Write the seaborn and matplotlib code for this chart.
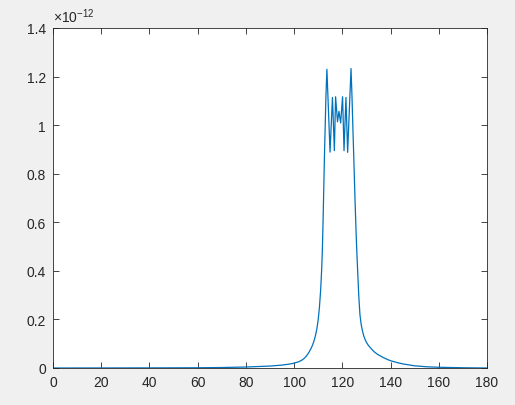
import numpy as np
import pandas as pd
import matplotlib
matplotlib.use("Agg")
import matplotlib.pyplot as plt
from matplotlib.ticker import FuncFormatter
import seaborn as sns

# values, y in units of 1e-12
x_vals = [0, 20, 40, 60, 70, 80, 90, 95, 98, 100, 102, 103, 104, 105, 106, 107, 107.5, 108,
          108.5, 109, 109.5, 110, 110.5, 111, 111.4, 111.7, 112, 112.3, 112.6, 112.9, 113.2,
          113.6, 114.9, 115.9, 116.7, 117.2, 118.0, 118.6, 119.3, 120.1, 120.7, 121.5, 122.2,
          123.6, 124.0, 124.4, 124.8, 125.3, 125.7, 126.0, 126.4, 126.8, 127.3, 127.8, 128.3,
          128.8, 129.4, 130.1, 130.8, 131.5, 132.2, 133.3, 134.5, 135.7, 137, 138.5, 140, 142.5,
          145, 150, 155, 160, 170, 180]
y_vals = [0, 0.0002, 0.0005, 0.001, 0.002, 0.004, 0.008, 0.012, 0.016, 0.02, 0.026, 0.031,
          0.038, 0.048, 0.062, 0.08, 0.091, 0.104, 0.12, 0.14, 0.165, 0.2, 0.25, 0.32, 0.4,
          0.48, 0.6, 0.74, 0.88, 1.0, 1.12, 1.23, 0.889, 1.114, 0.895, 1.117, 1.014, 1.057,
          1.009, 1.117, 0.895, 1.114, 0.888, 1.233, 1.12, 0.98, 0.85, 0.68, 0.56, 0.48, 0.39,
          0.3, 0.22, 0.18, 0.155, 0.135, 0.118, 0.104, 0.093, 0.085, 0.077, 0.066, 0.057, 0.05,
          0.043, 0.036, 0.03, 0.023, 0.017, 0.009, 0.005, 0.003, 0.001, 0]
scale = 1e-12

x_ticks = [0, 20, 40, 60, 80, 100, 120, 140, 160, 180]
y_ticks = [0, 0.2, 0.4, 0.6, 0.8, 1.0, 1.2, 1.4]

df = pd.DataFrame({"x": x_vals, "y": np.array(y_vals) * scale})

sns.set_style("ticks")
plt.rcParams['font.family'] = ['Liberation Sans', 'DejaVu Sans']
plt.rcParams['mathtext.fontset'] = 'custom'
plt.rcParams['mathtext.rm'] = 'Liberation Sans'

fig = plt.figure(figsize=(5.15, 4.06), dpi=100, facecolor="#f0f0f0")
ax = fig.add_axes([53 / 515, 37 / 406, 434 / 515, 340 / 406])
ax.set_facecolor("white")

sns.lineplot(data=df, x="x", y="y", sort=False, estimator=None, color="#0072BD",
             linewidth=0.9, ax=ax)

ax.set_xlim(0, 180)
ax.set_ylim(0, 1.4 * scale)
ax.set_xticks(x_ticks)
ax.set_yticks([t * scale for t in y_ticks])
ax.yaxis.set_major_formatter(FuncFormatter(lambda v, p: "%g" % round(v / scale, 6)))
ax.set_xlabel("")
ax.set_ylabel("")

for s in ax.spines.values():
    s.set_visible(True)
    s.set_color("#262626")
    s.set_linewidth(0.6)
ax.tick_params(direction="in", top=True, right=True, length=4, width=0.6,
               color="#262626", labelcolor="#262626", labelsize=10, pad=5)

ax.text(0.0, 1.008, r"$\mathregular{\times 10^{-12}}$", transform=ax.transAxes,
        ha="left", va="bottom", fontsize=10, color="#262626")

fig.savefig("out.png", dpi=100, facecolor=fig.get_facecolor())
